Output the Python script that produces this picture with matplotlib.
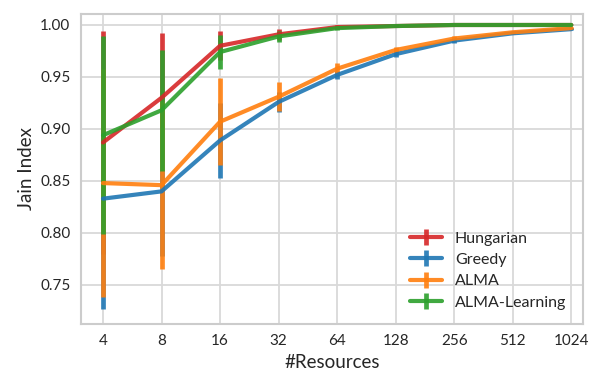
import matplotlib
matplotlib.use("Agg")
import matplotlib.pyplot as plt
import numpy as np
import seaborn as sns

# Données
resources = ['4', '8', '16', '32', '64', '128', '256', '512', '1024']
methods = ['Hungarian', 'Greedy', 'ALMA', 'ALMA-Learning']

jain_means = {
    'Hungarian':     [0.887, 0.930, 0.980, 0.991, 0.998, 0.999, 1.000, 1.000, 1.000],
    'Greedy':        [0.833, 0.840, 0.889, 0.926, 0.952, 0.972, 0.985, 0.992, 0.996],
    'ALMA':          [0.848, 0.846, 0.907, 0.931, 0.958, 0.976, 0.987, 0.993, 0.997],
    'ALMA-Learning': [0.894, 0.918, 0.974, 0.989, 0.997, 0.999, 1.000, 1.000, 1.000],
}
jain_std = {
    'Hungarian':     [0.107, 0.062, 0.014, 0.005, 0.002, 0.001, 0.000, 0.000, 0.000],
    'Greedy':        [0.106, 0.062, 0.036, 0.010, 0.004, 0.003, 0.002, 0.001, 0.001],
    'ALMA':          [0.110, 0.081, 0.042, 0.014, 0.005, 0.003, 0.002, 0.001, 0.001],
    'ALMA-Learning': [0.095, 0.058, 0.016, 0.005, 0.002, 0.001, 0.000, 0.000, 0.000],
}

colors = {'Hungarian': '#d62728', 'Greedy': '#1f77b4', 'ALMA': '#ff7f0e', 'ALMA-Learning': '#2ca02c'}

sns.set_style("whitegrid")
plt.rcParams['font.family'] = ['Lato', 'DejaVu Sans']

fig = plt.figure(figsize=(5.98, 3.88), dpi=100)
ax = fig.add_axes([0.135, 0.165, 0.84, 0.799])

x = np.arange(len(resources))
for m in methods:
    ax.errorbar(x, jain_means[m], yerr=jain_std[m], color=colors[m], alpha=0.9,
                linewidth=3.0, elinewidth=3.4, capsize=0, label=m)

ax.set_xticks(x)
ax.set_xticklabels(resources)
ax.set_xlim(-0.38, 8.2)
ax.set_ylim(0.7125, 1.0106)
ax.set_yticks([0.75, 0.80, 0.85, 0.90, 0.95, 1.00])
ax.tick_params(labelsize=11, pad=4)
ax.set_xlabel("#Resources", fontsize=13.5)
ax.set_ylabel("Jain Index", fontsize=13.5)
for s in ax.spines.values():
    s.set_color('#cccccc')
    s.set_linewidth(1.5)
ax.grid(True, color='#d9d9d9', linewidth=1.3)

ax.legend(loc='lower right', frameon=False, fontsize=11.5, handlelength=2.0,
          labelspacing=0.45, bbox_to_anchor=(0.995, 0.0))

fig.savefig("out.png", dpi=100)
